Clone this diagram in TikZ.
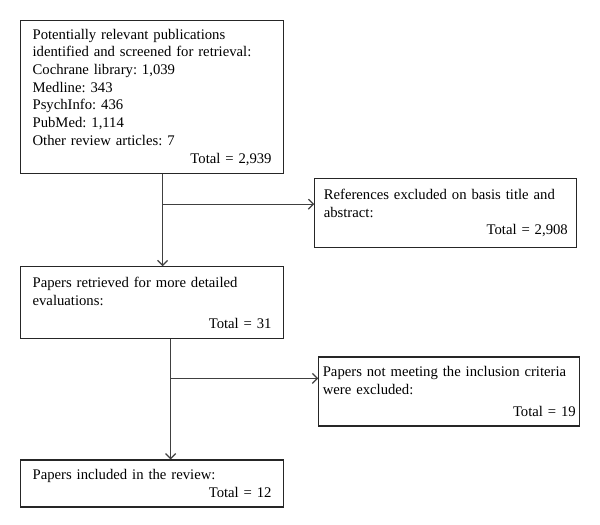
\documentclass[tikz,border=0pt]{standalone}
\usepackage{fontspec}
\setmainfont{Liberation Serif}
\usetikzlibrary{positioning, arrows.meta}
\newcommand{\totline}[1]{\hspace*{0pt plus 1filll}Total = #1}
\newcommand{\boxfont}{\fontsize{14.7}{17.7}\selectfont\frenchspacing\hyphenpenalty=10000\relax}

\begin{document}
\begin{tikzpicture}[x=1pt, y=-1pt]
\tikzstyle{main}=[rectangle, draw=black!85, line width=1.2pt, anchor=north west, align=left, inner xsep=12pt, inner ysep=3pt, font=\boxfont]
\tikzstyle{connect}=[draw=black!75, line width=1.2pt, -{Straight Barb[length=5pt, width=10pt]}]
\useasboundingbox (0,0) rectangle (600,525);
\node[main, text width=239pt, minimum height=153pt] (pubs) at (20,20) {Potentially relevant publications\\ identified and screened for retrieval:\\ Cochrane library: 1,039\\ Medline: 343\\ PsychInfo: 436\\ PubMed: 1,114\\ Other review articles: 7\\ \totline{2,939}};
\node[main, text width=244pt, inner xsep=9pt, minimum height=69pt] (excl1) [below right=158pt and 30pt of pubs.north east] {References excluded on basis title and\\ abstract:\\ \totline{2,908}};
\node[main, text width=239pt, minimum height=72pt] (retr) [below right=92pt and 0pt of pubs.south west] {Papers retrieved for more detailed\\ evaluations:\\[5pt] \totline{31}};
\node[main, text width=253pt, inner xsep=4pt, minimum height=69pt] (excl2) [below right=17pt and 34pt of retr.south east] {Papers not meeting the inclusion criteria\\ were excluded:\\[5pt] \totline{19}};
\node[main, text width=239pt, minimum height=47pt] (incl) [below right=120pt and 0pt of retr.south west] {Papers included in the review:\\ \totline{12}};
\coordinate (b1) at ([xshift=10.5pt, yshift=-30pt]pubs.south);
\coordinate (b2) at ([xshift=18.5pt, yshift=-39pt]retr.south);
\path
    ([xshift=10.5pt]pubs.south) edge [connect] ([xshift=10.5pt]retr.north)
    (b1) edge [connect] (b1 -| excl1.west)
    ([xshift=18.5pt]retr.south) edge [connect] ([xshift=18.5pt]incl.north)
    (b2) edge [connect] (b2 -| excl2.west)
;
\end{tikzpicture}
\end{document}
